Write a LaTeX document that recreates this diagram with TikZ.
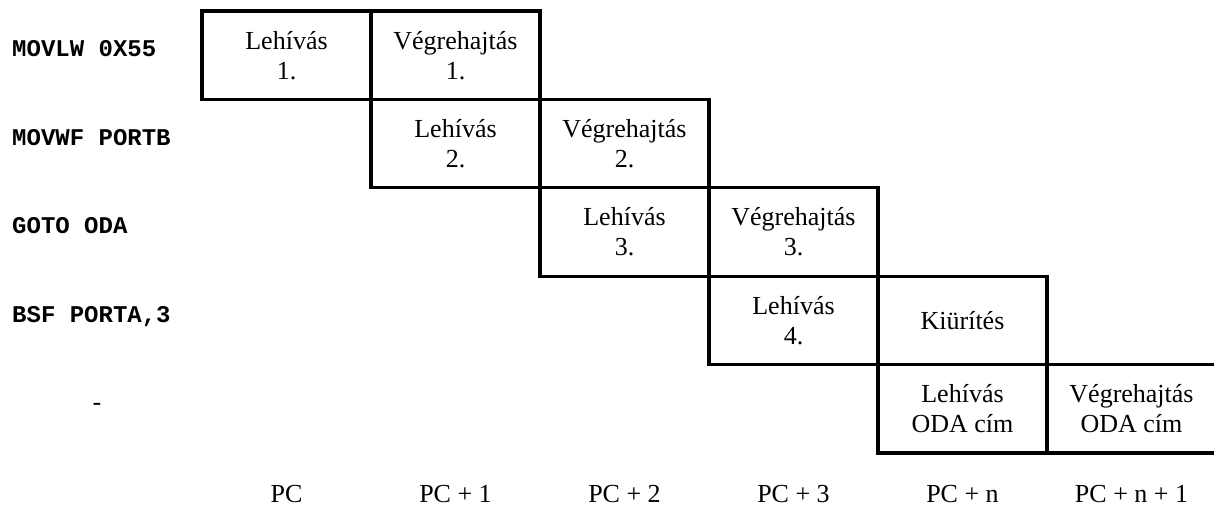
\documentclass[tikz,border=0pt]{standalone}
\usepackage{fontspec}
\setmainfont{Liberation Serif}
\newfontfamily\codefont{Liberation Mono}
\begin{document}
\begin{tikzpicture}[x=1pt,y=-1pt,
  stage/.style={draw=black, line width=3.2pt, minimum width=169pt, minimum height=88.4pt,
    inner sep=0pt, align=center, font=\fontsize{26}{30}\selectfont},
  instr/.style={anchor=base west, inner sep=0pt, font=\codefont\bfseries\fontsize{24}{28}\selectfont},
  addr/.style={anchor=base, inner sep=0pt, font=\fontsize{26}{30}\selectfont}]
  \useasboundingbox (0,0) rectangle (1214,506);
  \fill[white] (0,0) rectangle (1214,506);

  % pipeline stages, one row per instruction
  \node[stage] (f1) at (286.5,55.2) {Lehívás\\1.};
  \node[stage] (e1) at (455.5,55.2) {Végrehajtás\\1.};
  \node[stage] (f2) at (455.5,143.6) {Lehívás\\2.};
  \node[stage] (e2) at (624.5,143.6) {Végrehajtás\\2.};
  \node[stage] (f3) at (624.5,232) {Lehívás\\3.};
  \node[stage] (e3) at (793.5,232) {Végrehajtás\\3.};
  \node[stage] (f4) at (793.5,320.4) {Lehívás\\4.};
  \node[stage] (fl) at (962.5,320.4) {Kiürítés};
  \node[stage] (f5) at (962.5,408.8) {Lehívás\\ODA cím};
  \node[stage] (e5) at (1131.5,408.8) {Végrehajtás\\ODA cím};

  % instructions
  \node[instr] (i1) at (12,56.5) {MOVLW 0X55};
  \node[instr] (i2) at (12,145) {MOVWF PORTB};
  \node[instr] (i3) at (12,233.5) {GOTO ODA};
  \node[instr] (i4) at (12,322) {BSF PORTA,3};
  \node[addr] (i5) at (97,410) {-};

  % program counter values
  \node[addr] (p0) at (286.5,502) {PC};
  \node[addr] (p1) at (455.5,502) {PC + 1};
  \node[addr] (p2) at (624.5,502) {PC + 2};
  \node[addr] (p3) at (793.5,502) {PC + 3};
  \node[addr] (pn) at (962.5,502) {PC + n};
  \node[addr] (pn1) at (1131.5,502) {PC + n + 1};
\end{tikzpicture}
\end{document}
